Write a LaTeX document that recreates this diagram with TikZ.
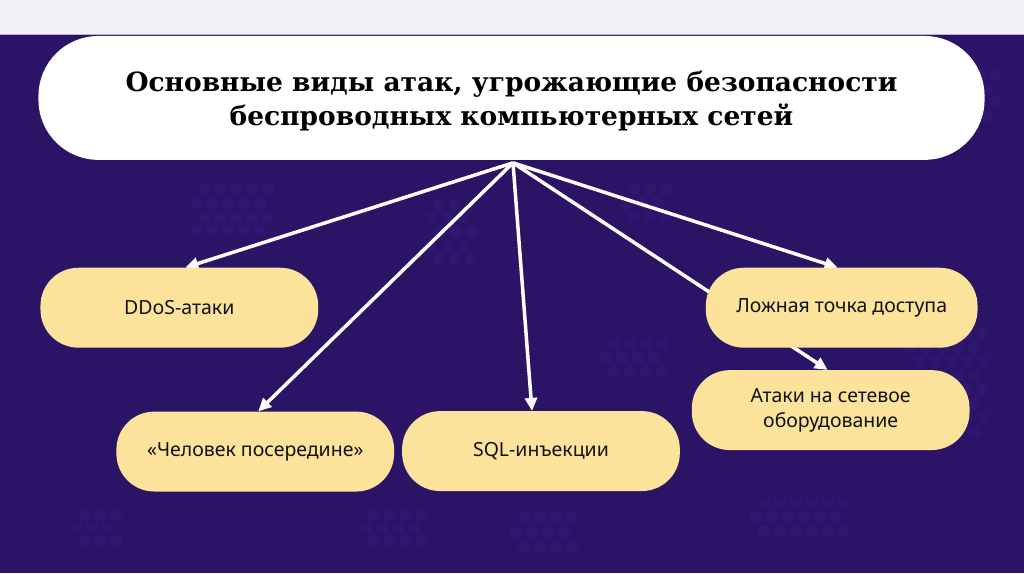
\documentclass[tikz,border=0pt]{standalone}
\usepackage{fontspec}
\setmainfont{DejaVu Serif}
\newfontfamily\boxfont{Noto Sans}
\usetikzlibrary{arrows.meta,calc}
\definecolor{bgpurple}{HTML}{2B1466}
\definecolor{dotpurple}{HTML}{3A1F8C}
\definecolor{topstrip}{HTML}{F2F1F7}
\definecolor{boxyellow}{HTML}{FCE39B}
\definecolor{boxtext}{HTML}{111111}
\pgfdeclarelayer{bg}
\pgfdeclarelayer{arr}
\pgfsetlayers{bg,arr,main}
\tikzset{
  titlebox/.style={fill=white, rounded corners=60pt, minimum width=947pt, minimum height=124pt, inner sep=0pt,
    align=center, font=\fontsize{26.5}{34}\selectfont\bfseries, text=black},
  titletext/.style={align=center, font=\fontsize{26.5}{34}\selectfont\bfseries, text=black, inner sep=0pt},
  attackbox/.style={fill=boxyellow, rounded corners=38pt, minimum width=278pt, minimum height=80pt, inner sep=0pt,
    align=center, font=\boxfont\fontsize{19.5}{25}\selectfont, text=boxtext},
  linkarrow/.style={draw=white, line width=3.5pt, -{Triangle[length=13pt,width=12pt]}},
}
\begin{document}
\begin{tikzpicture}[x=1pt,y=-1pt]
\begin{pgfonlayer}{bg}
  \fill[bgpurple] (0,0) rectangle (1024,574);
  \fill[topstrip] (0,0) rectangle (1024,34);
  \draw[color=topstrip!70!dotpurple, line width=1pt] (0,34.5) -- (1024,34.5);
  % faint dot texture
  \foreach \cx/\cy/\nx/\ny in {180/175/5/4, 415/190/3/5, 610/175/3/3, 350/500/4/3, 500/505/4/3, 740/490/6/3, 895/320/5/8, 60/500/3/3, 940/60/3/4, 590/330/4/3}{
    \foreach \i in {1,...,\nx}{
      \foreach \j in {1,...,\ny}{
        \fill[dotpurple, opacity=0.3] ({\cx+\i*16+mod(\j,2)*8},{\cy+\j*14}) circle (6pt);
      }
    }
  }
\end{pgfonlayer}

\node[titlebox] (title) at (511.5,98) {};
\node[titletext] (titlelabel) at (511.5,101) {Основные виды атак, угрожающие безопасности\\беспроводных компьютерных сетей};

\node[attackbox] (ddos) at (179,308) {DDoS-атаки};
\node[attackbox] (mitm) at (255,452) {«Человек посередине»};
\node[attackbox] (sql) at (541,451.5) {SQL-инъекции};
\node[attackbox, minimum width=272pt] (fake) at (842,308) {Ложная точка доступа};
\node[attackbox] (hw) at (831,410.5) {Атаки на сетевое\\оборудование};

\coordinate (hub) at (513,163);

\begin{pgfonlayer}{arr}
  \draw[linkarrow] (hub) -- ([xshift=6pt]ddos.north);
  \draw[linkarrow] (hub) -- ([xshift=3pt]mitm.north);
  \draw[linkarrow] (hub) -- ([xshift=-9pt]sql.north);
  \draw[linkarrow] (hub) -- ([xshift=-4pt]fake.north);
  \draw[linkarrow] (hub) -- ([xshift=-3pt]hw.north);
\end{pgfonlayer}
\end{tikzpicture}
\end{document}
